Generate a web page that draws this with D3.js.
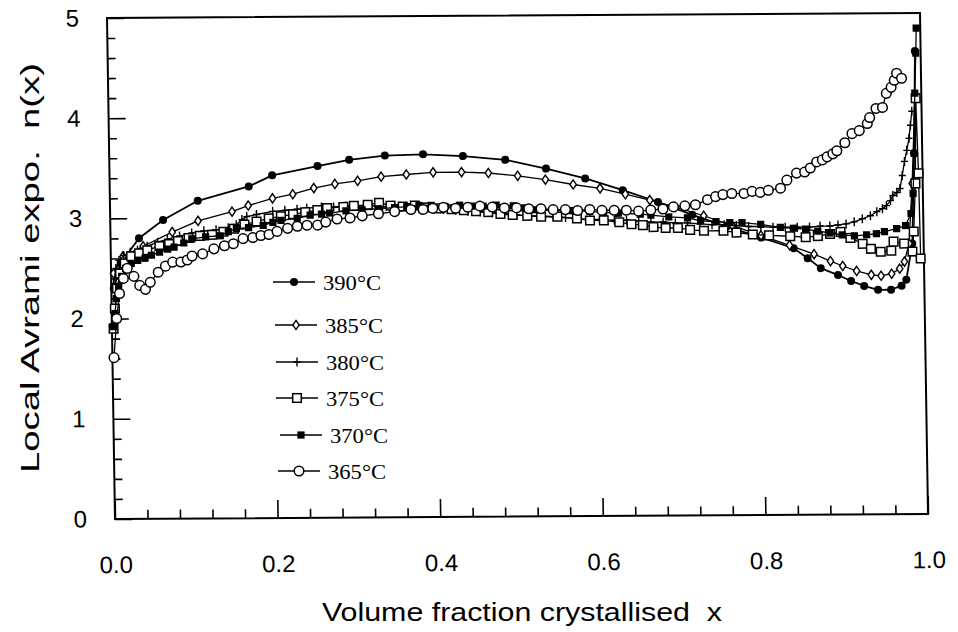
<!DOCTYPE html>
<html>
<head>
<meta charset="utf-8">
<script src="https://cdn.jsdelivr.net/npm/d3@7"></script>
<style>
  body { margin: 0; background: #fff; }
  svg { display: block; }
</style>
</head>
<body>
<svg id="chart" width="958" height="632"></svg>
<script>
// Local Avrami exponent n(x) versus volume fraction crystallised x, six isothermal runs

const x390 = [0.003,0.012,0.035,0.065,0.108,0.171,0.200,0.256,0.295,0.339,0.386,0.435,0.487,0.537,0.585,0.631,0.674,0.716,0.758,0.800,0.840,0.857,0.873,0.894,0.910,0.926,0.943,0.959,0.972,0.978,0.986,0.990,0.993];
const n390 = [2.30,2.55,2.80,2.98,3.17,3.31,3.42,3.51,3.57,3.61,3.62,3.60,3.56,3.47,3.37,3.25,3.13,3.00,2.88,2.77,2.66,2.56,2.46,2.39,2.33,2.28,2.24,2.24,2.28,2.34,2.70,3.60,4.62];

const x385 = [0.003,0.015,0.040,0.076,0.108,0.150,0.170,0.200,0.225,0.251,0.277,0.305,0.334,0.365,0.398,0.433,0.466,0.502,0.536,0.570,0.603,0.634,0.664,0.695,0.730,0.765,0.800,0.835,0.865,0.885,0.900,0.917,0.935,0.947,0.960,0.970,0.976,0.982,0.987,0.992];
const n385 = [2.45,2.62,2.72,2.86,2.97,3.06,3.12,3.19,3.23,3.29,3.33,3.36,3.40,3.42,3.44,3.44,3.43,3.40,3.36,3.31,3.27,3.21,3.15,3.08,2.99,2.89,2.79,2.69,2.60,2.53,2.48,2.43,2.39,2.38,2.40,2.45,2.52,2.70,3.30,4.15];

const x380 = [0.003,0.006,0.010,0.016,0.024,0.033,0.045,0.058,0.070,0.085,
              0.100,0.115,0.130,0.145,0.155,0.162,0.168,0.180,0.200,0.215,
              0.230,0.242,0.260,0.275,0.290,0.305,0.320,0.335,0.350,0.365,
              0.380,0.395,0.410,0.425,0.440,0.455,0.470,0.485,0.500,0.515,
              0.530,0.545,0.560,0.575,0.590,0.605,0.620,0.635,0.650,0.665,
              0.680,0.695,0.710,0.725,0.740,0.755,0.770,0.785,0.800,0.815,
              0.830,0.845,0.860,0.873,0.885,0.895,0.905,0.915,0.925,0.935,
              0.943,0.950,0.955,0.960,0.963,0.968,0.972,0.975,0.978,0.981,
              0.984,0.986,0.988];
const n380 = [2.35,2.50,2.58,2.63,2.66,2.68,2.72,2.76,2.79,2.82,
              2.85,2.87,2.88,2.90,2.93,2.98,3.01,3.03,3.06,3.07,
              3.08,3.09,3.10,3.10,3.11,3.11,3.11,3.10,3.10,3.09,
              3.08,3.08,3.07,3.06,3.05,3.04,3.03,3.02,3.01,3.00,
              3.00,2.99,2.98,2.97,2.96,2.96,2.95,2.95,2.94,2.93,
              2.93,2.92,2.92,2.91,2.90,2.90,2.89,2.88,2.88,2.87,
              2.87,2.87,2.87,2.88,2.88,2.89,2.90,2.92,2.95,2.98,
              3.02,3.05,3.08,3.13,3.18,3.21,3.25,3.38,3.52,3.63,
              3.75,3.88,4.02];

const x375 = [0.002,0.004,0.007,0.011,0.017,0.025,0.035,0.045,0.060,0.072,
              0.083,0.096,0.110,0.125,0.139,0.152,0.165,0.180,0.195,0.210,
              0.225,0.240,0.255,0.267,0.287,0.300,0.317,0.331,0.345,0.360,
              0.375,0.390,0.405,0.420,0.435,0.450,0.465,0.480,0.495,0.513,
              0.530,0.550,0.574,0.590,0.607,0.626,0.641,0.655,0.668,0.683,
              0.698,0.713,0.730,0.754,0.770,0.790,0.810,0.836,0.855,0.870,
              0.885,0.898,0.910,0.925,0.935,0.947,0.960,0.963,0.976,0.986,
              0.988,0.991,0.993,0.995,0.996];
const n375 = [1.90,2.10,2.30,2.45,2.55,2.62,2.65,2.68,2.72,2.74,
              2.77,2.80,2.82,2.83,2.86,2.89,2.93,2.96,2.99,3.01,
              3.03,3.05,3.07,3.09,3.10,3.11,3.12,3.14,3.11,3.10,
              3.11,3.09,3.08,3.07,3.06,3.05,3.04,3.02,3.01,3.00,
              2.99,2.99,2.97,2.95,2.95,2.93,2.91,2.90,2.88,2.87,
              2.87,2.85,2.84,2.84,2.82,2.80,2.79,2.78,2.77,2.78,
              2.80,2.82,2.76,2.70,2.65,2.62,2.63,2.72,2.70,2.62,
              2.82,3.30,4.15,3.40,2.55];

const x370 = [0.002,0.004,0.006,0.009,0.013,0.018,0.025,0.033,0.042,0.050,
              0.060,0.070,0.078,0.090,0.100,0.117,0.135,0.145,0.155,0.170,
              0.188,0.200,0.210,0.230,0.246,0.260,0.270,0.290,0.310,0.330,
              0.350,0.365,0.380,0.395,0.412,0.430,0.445,0.459,0.475,0.496,
              0.510,0.520,0.545,0.566,0.590,0.607,0.625,0.652,0.665,0.687,
              0.710,0.726,0.745,0.762,0.777,0.800,0.824,0.840,0.855,0.870,
              0.885,0.900,0.915,0.930,0.942,0.952,0.967,0.978,0.985,0.988,
              0.990,0.992,0.994,0.995];
const n370 = [1.92,2.05,2.20,2.32,2.42,2.50,2.55,2.58,2.60,2.63,
              2.66,2.69,2.71,2.75,2.79,2.81,2.82,2.86,2.89,2.90,
              2.92,2.95,2.97,2.99,3.02,3.03,3.04,3.06,3.07,3.08,
              3.09,3.10,3.11,3.11,3.10,3.11,3.10,3.10,3.11,3.10,
              3.08,3.06,3.05,3.05,3.04,3.03,3.02,3.01,3.00,2.98,
              2.97,2.94,2.93,2.92,2.92,2.90,2.87,2.86,2.85,2.83,
              2.81,2.79,2.78,2.79,2.80,2.82,2.85,2.88,3.00,3.20,
              3.60,4.20,4.60,4.85];

const x365 = [0.002,0.006,0.010,0.015,0.020,0.028,0.035,0.042,0.048,0.058,
              0.067,0.076,0.086,0.094,0.100,0.113,0.127,0.140,0.151,0.163,
              0.175,0.185,0.195,0.205,0.218,0.230,0.242,0.255,0.265,0.279,
              0.295,0.310,0.330,0.350,0.370,0.385,0.397,0.410,0.425,0.440,
              0.455,0.470,0.485,0.500,0.515,0.530,0.545,0.560,0.575,0.590,
              0.605,0.620,0.635,0.650,0.665,0.680,0.693,0.707,0.720,0.735,
              0.745,0.754,0.765,0.780,0.790,0.800,0.810,0.825,0.833,0.845,
              0.855,0.862,0.870,0.877,0.883,0.890,0.895,0.905,0.914,0.923,
              0.933,0.936,0.944,0.952,0.957,0.963,0.967,0.970,0.976];
const n365 = [1.61,2.00,2.25,2.40,2.50,2.42,2.33,2.29,2.36,2.46,
              2.52,2.56,2.56,2.58,2.62,2.64,2.69,2.72,2.74,2.79,
              2.80,2.82,2.83,2.86,2.89,2.91,2.92,2.92,2.95,2.98,
              2.99,3.01,3.03,3.05,3.07,3.07,3.08,3.09,3.08,3.09,
              3.10,3.09,3.08,3.08,3.07,3.07,3.06,3.06,3.05,3.06,
              3.05,3.05,3.05,3.04,3.05,3.06,3.08,3.09,3.10,3.15,
              3.18,3.20,3.21,3.21,3.23,3.22,3.24,3.26,3.34,3.41,
              3.42,3.46,3.52,3.54,3.57,3.60,3.63,3.71,3.80,3.83,
              3.90,3.96,4.05,4.06,4.20,4.26,4.33,4.40,4.35];

const seriesLabels = ["390°C", "385°C", "380°C", "375°C", "370°C", "365°C"];
const markerKinds  = ["filledCircle", "diamond", "plus", "openSquare", "filledSquare", "openCircle"];

const xTickValues = [0.0, 0.2, 0.4, 0.6, 0.8, 1.0];
const xTickLabels = ["0.0", "0.2", "0.4", "0.6", "0.8", "1.0"];
const yTickValues = [0, 1, 2, 3, 4, 5];
const yTickLabels = ["0", "1", "2", "3", "4", "5"];

const xTitle = "Volume fraction crystallised  x";
const yTitle = "Local Avrami expo.  n(x)";

// ---------------------------------------------------------------------------
const series = [
  { xs: x390, ys: n390 }, { xs: x385, ys: n385 }, { xs: x380, ys: n380 },
  { xs: x375, ys: n375 }, { xs: x370, ys: n370 }, { xs: x365, ys: n365 }
].map((s, i) => ({
  label: seriesLabels[i],
  kind: markerKinds[i],
  points: s.xs.map((xv, j) => [xv, s.ys[j]]).filter(p => p[1] !== undefined)
}));

const W = 813, H = 501;
const x = d3.scaleLinear().domain([0, 1]).range([0, W]);
const y = d3.scaleLinear().domain([0, 5]).range([H, 0]);

const svg = d3.select("#chart");
const SANS = "'Liberation Sans', Arial, Helvetica, sans-serif";
const SERIF = "'Liberation Serif', 'Times New Roman', serif";

// the plotting frame is a slightly sheared box
const plot = svg.append("g")
  .attr("transform", `matrix(1,${-5 / 813},${8 / 501},1,107,18)`);

// minor ticks
const xMinor = d3.range(0.04, 1.0, 0.04).filter(v => Math.abs(v / 0.2 - Math.round(v / 0.2)) > 1e-6);
const yMinor = d3.range(0.2, 5.0, 0.2).filter(v => Math.abs(v - Math.round(v)) > 1e-6);

const xMinorAxis = plot.append("g").attr("transform", `translate(0,${H})`)
  .call(d3.axisBottom(x).tickValues(xMinor).tickSizeInner(-9).tickSizeOuter(0).tickFormat(""));
const xMajorAxis = plot.append("g").attr("transform", `translate(0,${H})`)
  .call(d3.axisBottom(x).tickValues(xTickValues).tickSizeInner(-18).tickSizeOuter(0)
        .tickPadding(37).tickFormat((d, i) => xTickLabels[i]));
const yMinorAxis = plot.append("g")
  .call(d3.axisLeft(y).tickValues(yMinor).tickSizeInner(-8).tickSizeOuter(0).tickFormat(""));
const yMajorAxis = plot.append("g")
  .call(d3.axisLeft(y).tickValues(yTickValues).tickSizeInner(-17).tickSizeOuter(0)
        .tickPadding(28).tickFormat((d, i) => yTickLabels[i]));

[xMinorAxis, xMajorAxis, yMinorAxis, yMajorAxis].forEach(g => {
  g.select(".domain").remove();
  g.selectAll(".tick line").attr("stroke", "#000").attr("stroke-width", 1.6);
  g.selectAll(".tick text").attr("fill", "#000").style("font-family", SANS).style("font-size", "24px");
});

// frame
plot.append("rect")
  .attr("x", 0).attr("y", 0).attr("width", W).attr("height", H)
  .attr("fill", "none").attr("stroke", "#000").attr("stroke-width", 2);

// marker drawing
function drawMarker(sel, kind) {
  if (kind === "filledCircle") {
    sel.append("circle").attr("r", 4).attr("fill", "#000");
  } else if (kind === "openCircle") {
    sel.append("circle").attr("r", 4.8).attr("fill", "#fff").attr("stroke", "#000").attr("stroke-width", 1.5);
  } else if (kind === "diamond") {
    sel.append("path").attr("d", "M0,-4.6L3.2,0L0,4.6L-3.2,0Z")
      .attr("fill", "#fff").attr("stroke", "#000").attr("stroke-width", 1.4);
  } else if (kind === "plus") {
    sel.append("path").attr("d", "M0,-4.5V4.5M-3.5,0H3.5")
      .attr("fill", "none").attr("stroke", "#000").attr("stroke-width", 1.4);
  } else if (kind === "openSquare") {
    sel.append("rect").attr("x", -4.3).attr("y", -4.3).attr("width", 8.6).attr("height", 8.6)
      .attr("fill", "#fff").attr("stroke", "#000").attr("stroke-width", 1.5);
  } else if (kind === "filledSquare") {
    sel.append("rect").attr("x", -3.6).attr("y", -3.6).attr("width", 7.2).attr("height", 7.2)
      .attr("fill", "#000");
  }
}

const line = d3.line().x(d => x(d[0])).y(d => y(d[1]));

series.forEach((s, i) => {
  const g = plot.append("g").attr("class", "series");
  g.append("path").datum(s.points)
    .attr("d", line).attr("fill", "none").attr("stroke", "#000")
    .attr("stroke-width", i === 0 ? 1.8 : 1.3).attr("stroke-linejoin", "round");
  g.selectAll("g.pt").data(s.points).join("g")
    .attr("class", "pt")
    .attr("transform", d => `translate(${x(d[0])},${y(d[1])})`)
    .each(function () { drawMarker(d3.select(this), s.kind); });
});

// legend
const legendRows = [282, 325, 362, 398, 435, 471];
const legendX0 = [273, 275, 276, 276, 280, 278];
const legend = svg.append("g");
series.forEach((s, i) => {
  const row = legend.append("g").attr("transform", `translate(${legendX0[i]},${legendRows[i]})`);
  row.append("line").attr("x1", 0).attr("x2", 42).attr("y1", 0).attr("y2", 0)
    .attr("stroke", "#000").attr("stroke-width", 1.6);
  drawMarker(row.append("g").attr("transform", "translate(21,0)"), s.kind);
  row.append("text").attr("x", 50).attr("y", 7.5)
    .attr("textLength", 58).attr("lengthAdjust", "spacingAndGlyphs")
    .style("font-family", SERIF).style("font-size", "21px").attr("fill", "#000")
    .text(s.label);
});

// axis titles
svg.append("text")
  .attr("x", 522).attr("y", 621).attr("text-anchor", "middle")
  .attr("textLength", 400).attr("lengthAdjust", "spacingAndGlyphs")
  .style("white-space", "pre")
  .style("font-family", SANS).style("font-size", "26px").attr("fill", "#000")
  .text(xTitle);

svg.append("text")
  .attr("transform", "translate(39,268) rotate(-90)").attr("text-anchor", "middle")
  .attr("textLength", 410).attr("lengthAdjust", "spacingAndGlyphs")
  .style("white-space", "pre")
  .style("font-family", SANS).style("font-size", "26px").attr("fill", "#000")
  .text(yTitle);
</script>
</body>
</html>
